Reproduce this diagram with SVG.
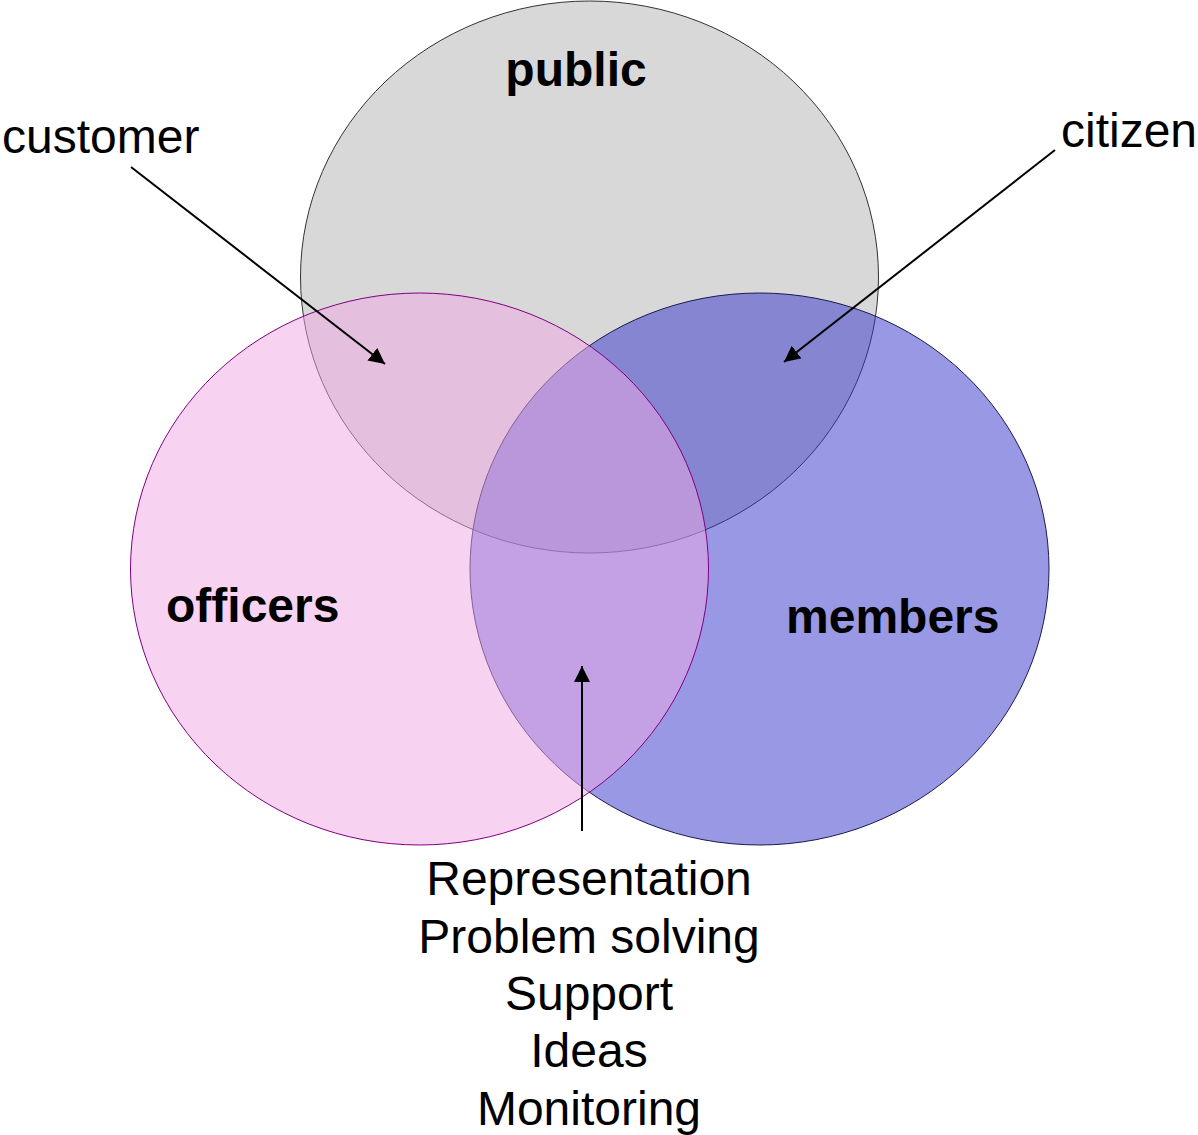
<svg xmlns="http://www.w3.org/2000/svg" width="1198" height="1135" viewBox="0 0 1198 1135">
<style>
.lbl{font-family:"Liberation Sans",Arial,sans-serif;font-size:48px;fill:#000}
.b{font-weight:bold}
.mid{text-anchor:middle}
.con{stroke:#000;stroke-width:2;fill:none;marker-end:url(#ah)}
</style>
<defs>
<marker id="ah" markerUnits="userSpaceOnUse" markerWidth="18" markerHeight="18" refX="16" refY="8" orient="auto">
<path d="M0,0 L16,8 L0,16 Z" fill="#000"/>
</marker>
</defs>
<rect width="1198" height="1135" fill="#fff"/>
<g id="public">
<ellipse cx="589.5" cy="277" rx="289" ry="276" fill="#d8d8d8" stroke="#333" stroke-width="1"/>
<text class="lbl b mid" x="576" y="86">public</text>
</g>
<g id="members">
<ellipse cx="759.5" cy="569" rx="289.5" ry="276" fill="rgb(49,49,201)" fill-opacity="0.5" stroke="#1a1a4d" stroke-width="1"/>
</g>
<g id="officers">
<ellipse cx="419.5" cy="569" rx="289" ry="276" fill="rgb(240,168,228)" fill-opacity="0.5" stroke="#800080" stroke-width="1"/>
<text class="lbl b" x="166" y="622">officers</text>
</g>
<g id="members-label">
<text class="lbl b" x="786" y="633">members</text>
</g>
<g id="connectors">
<line class="con" x1="131" y1="167" x2="385" y2="364"/>
<line class="con" x1="1055" y1="150" x2="784" y2="362"/>
<line class="con" x1="582" y1="831" x2="582" y2="666"/>
</g>
<g id="customer">
<text class="lbl" x="2" y="153">customer</text>
</g>
<g id="citizen">
<text class="lbl" x="1061" y="147">citizen</text>
</g>
<g id="roles">
<text class="lbl mid" x="589" y="895">Representation</text>
<text class="lbl mid" x="589" y="953">Problem solving</text>
<text class="lbl mid" x="589" y="1010">Support</text>
<text class="lbl mid" x="589" y="1067">Ideas</text>
<text class="lbl mid" x="589" y="1125">Monitoring</text>
</g>
</svg>
